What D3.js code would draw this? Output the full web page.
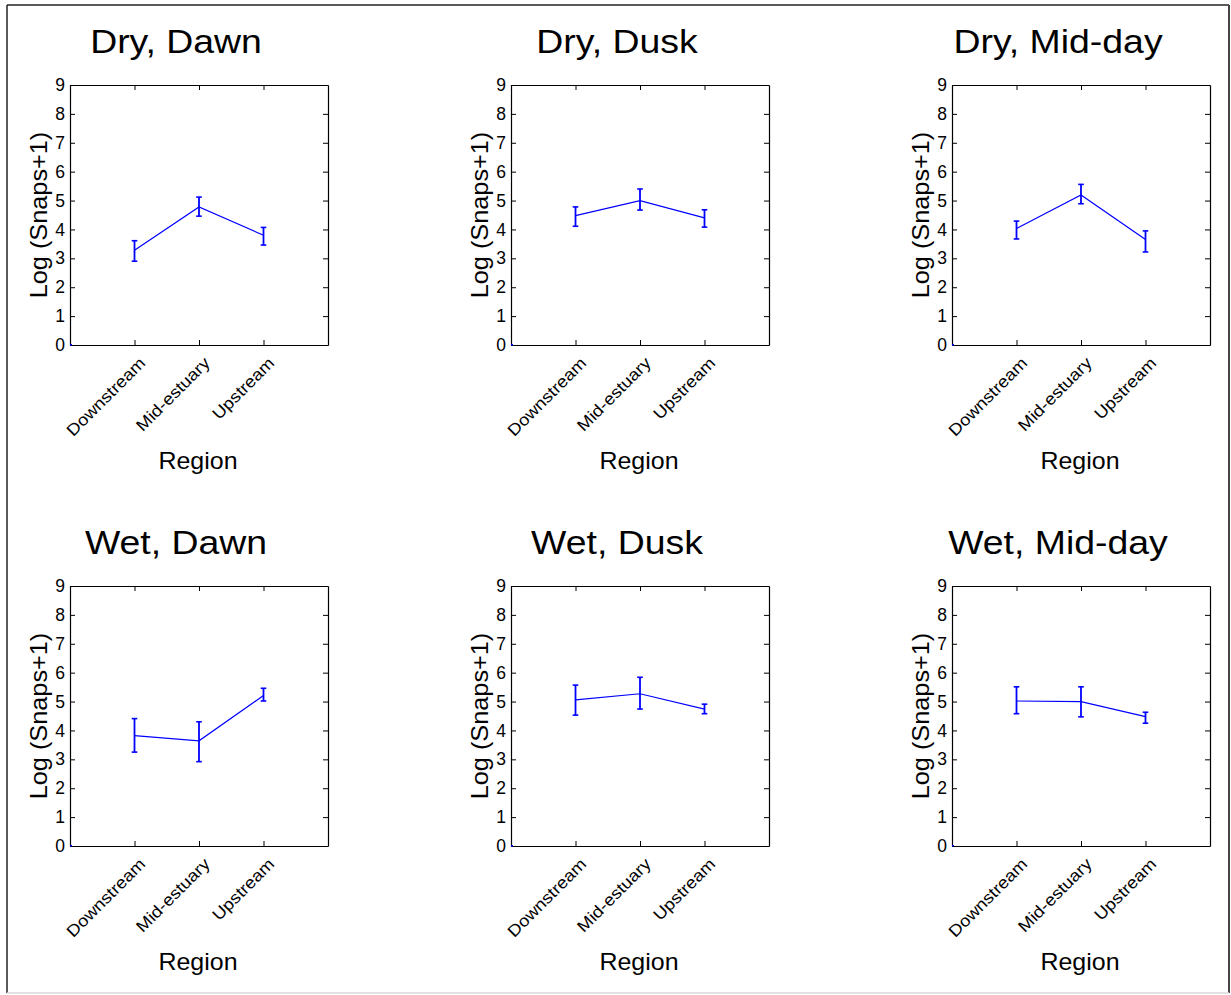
<!DOCTYPE html>
<html>
<head>
<meta charset="utf-8">
<script src="https://cdn.jsdelivr.net/npm/d3@7"></script>
<style>
  html, body { margin: 0; padding: 0; background: #fff; }
  svg { display: block; }
  text { font-family: "Liberation Sans", Arial, sans-serif; fill: #000; }
</style>
</head>
<body>
<svg id="fig" width="1231" height="995"></svg>
<script>
// Categories along the x axis
const regions = ["Downstream", "Mid-estuary", "Upstream"];
// One panel per season/time-of-day combination
const panelTitles = ["Dry, Dawn", "Dry, Dusk", "Dry, Mid-day", "Wet, Dawn", "Wet, Dusk", "Wet, Mid-day"];
// Mean Log(Snaps+1) per region, one row per panel
const meanValues = [
  [3.28, 4.78, 3.80],
  [4.48, 5.00, 4.40],
  [4.03, 5.19, 3.65],
  [3.82, 3.64, 5.21],
  [5.06, 5.27, 4.74],
  [5.02, 5.00, 4.48]
];
// Lower and upper ends of the error bars
const lowerValues = [
  [2.90, 4.46, 3.46],
  [4.11, 4.67, 4.08],
  [3.67, 4.89, 3.22],
  [3.25, 2.92, 5.02],
  [4.53, 4.74, 4.58],
  [4.58, 4.47, 4.25]
];
const upperValues = [
  [3.61, 5.12, 4.07],
  [4.78, 5.40, 4.68],
  [4.29, 5.56, 3.95],
  [4.41, 4.30, 5.46],
  [5.57, 5.84, 4.91],
  [5.51, 5.51, 4.63]
];
const yTickValues = [0, 1, 2, 3, 4, 5, 6, 7, 8, 9];
const yLabel = "Log (Snaps+1)";
const xLabel = "Region";

const svg = d3.select("#fig");
const blue = "#0000ff";

// Figure frame
svg.append("line").attr("x1", 7).attr("x2", 7).attr("y1", 5).attr("y2", 993).attr("stroke", "#222").attr("stroke-width", 1.5);
svg.append("line").attr("x1", 7).attr("x2", 1229).attr("y1", 5).attr("y2", 5).attr("stroke", "#222").attr("stroke-width", 1.5);
svg.append("line").attr("x1", 1229).attr("x2", 1229).attr("y1", 5).attr("y2", 993).attr("stroke", "#444").attr("stroke-width", 2);
svg.append("line").attr("x1", 7).attr("x2", 1229).attr("y1", 993).attr("y2", 993).attr("stroke", "#d8d8d8").attr("stroke-width", 1.5);

// Axes layout
const colLeft = [70, 511, 952];
const rowTop = [85, 586];
const axW = 258, axH = 260;
const tickLen = 5;

panelTitles.forEach((title, i) => {
  const col = i % 3, row = Math.floor(i / 3);
  const g = svg.append("g").attr("transform", `translate(${colLeft[col]},${rowTop[row]})`);

  const x = d3.scaleLinear().domain([0, 4]).range([0, axW]);
  const y = d3.scaleLinear().domain([0, 9]).range([axH, 0]);
  const xTickPos = regions.map((_, k) => k + 1);

  // Box axes with inward ticks on all sides
  const left = g.append("g").call(d3.axisLeft(y).tickValues(yTickValues).tickSizeInner(-tickLen).tickSizeOuter(0).tickPadding(5).tickFormat(d3.format("d")));
  g.append("g").attr("transform", `translate(${axW},0)`).call(d3.axisRight(y).tickValues(yTickValues).tickSizeInner(-tickLen).tickSizeOuter(0).tickFormat(""));
  g.append("g").attr("transform", `translate(0,${axH})`).call(d3.axisBottom(x).tickValues(xTickPos).tickSizeInner(-tickLen).tickSizeOuter(0).tickFormat(""));
  g.append("g").call(d3.axisTop(x).tickValues(xTickPos).tickSizeInner(-tickLen).tickSizeOuter(0).tickFormat(""));
  g.selectAll(".domain").attr("stroke", "#000").attr("stroke-width", 1.2);
  g.selectAll(".tick line").attr("stroke", "#000").attr("stroke-width", 1);
  left.selectAll(".tick text").attr("font-size", 17.5).attr("font-family", "Liberation Sans, Arial, sans-serif").attr("fill", "#000");

  // Rotated region labels
  g.selectAll(".xlab").data(regions).enter().append("text")
    .attr("class", "xlab")
    .attr("text-anchor", "end")
    .attr("font-size", 16.5)
    .attr("transform", (d, k) => `translate(${x(k + 1) + 12},${axH + 19}) rotate(-45) scale(1.12,1)`)
    .text(d => d);

  // Axis labels and title
  g.append("text").attr("text-anchor", "middle").attr("font-size", 24)
    .attr("transform", `translate(${axW / 2 - 1},${axH + 124}) scale(1.04,1)`)
    .text(xLabel);
  g.append("text").attr("text-anchor", "middle").attr("font-size", 23)
    .attr("transform", `translate(-23,${axH / 2}) rotate(-90) scale(1.1,1)`)
    .text(yLabel);
  g.append("text").attr("text-anchor", "middle").attr("font-size", 34)
    .attr("transform", `translate(${axW / 2 - 23},-32) scale(1.1,1)`)
    .text(title);

  // Mean line
  const pts = meanValues[i].map((v, k) => [x(k + 1), y(v)]);
  g.append("path").attr("d", d3.line()(pts)).attr("fill", "none").attr("stroke", blue).attr("stroke-width", 1.2);
  // Origin marker drawn by the plotting routine
  g.append("rect").attr("x", x(0)).attr("y", y(0) - 1).attr("width", 2).attr("height", 1.5).attr("fill", blue);

  // Error bars
  const cap = 2.8;
  regions.forEach((_, k) => {
    const cx = x(k + 1), lo = y(lowerValues[i][k]), hi = y(upperValues[i][k]);
    g.append("line").attr("x1", cx).attr("x2", cx).attr("y1", lo).attr("y2", hi).attr("stroke", blue).attr("stroke-width", 1.8);
    g.append("line").attr("x1", cx - cap).attr("x2", cx + cap).attr("y1", lo).attr("y2", lo).attr("stroke", blue).attr("stroke-width", 1.6);
    g.append("line").attr("x1", cx - cap).attr("x2", cx + cap).attr("y1", hi).attr("y2", hi).attr("stroke", blue).attr("stroke-width", 1.6);
  });
});
</script>
</body>
</html>
